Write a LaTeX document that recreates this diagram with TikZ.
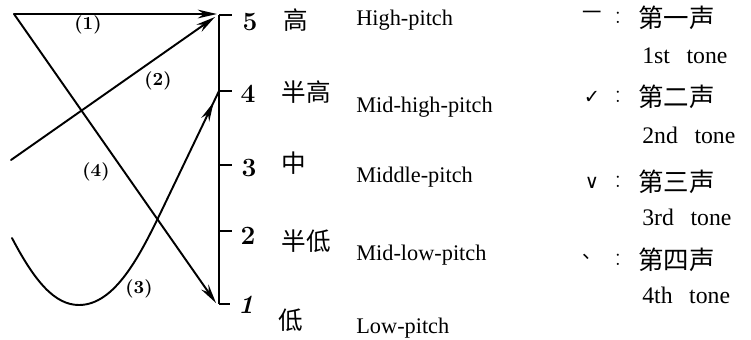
\documentclass[tikz,border=0pt]{standalone}
\usepackage{fontspec}
\newfontfamily\cjk{Noto Sans CJK SC}
\newfontfamily\dejavu{DejaVu Sans}
\newfontfamily\tms{Liberation Serif}
\usetikzlibrary{arrows.meta,decorations.markings}
\begin{document}
\begin{tikzpicture}[x=0.02cm,y=-0.02cm,
  tone/.style={line width=1.1pt, line cap=round},
  arr/.style={-{Stealth[length=11pt,width=5pt]}},
  midarr/.style={postaction={decorate},decoration={markings,
     mark=at position -7pt with {\arrow{Stealth[length=11pt,width=5pt]}}}},
  tickline/.style={line width=1.1pt},
  num/.style={font=\bfseries\fontsize{15}{15}\selectfont, inner sep=0pt},
  zh/.style={font=\cjk\fontsize{14}{14}\selectfont, inner sep=0pt},
  zhr/.style={font=\cjk\fontsize{14.5}{14.5}\selectfont, inner sep=0pt, anchor=west},
  en/.style={font=\tms\fontsize{12.7}{13}\selectfont, inner sep=0pt, anchor=base west},
  enr/.style={font=\tms\fontsize{13.5}{14}\selectfont, inner sep=0pt, anchor=base west},
  lab/.style={font=\bfseries\fontsize{10.5}{10.5}\selectfont, inner sep=0pt},
  mk/.style={font=\dejavu\fontsize{11}{11}\selectfont, inner sep=0pt},
  colon/.style={font=\fontsize{15}{15}\selectfont, inner sep=0pt},
]
\useasboundingbox (0,0) rectangle (751,339);
% scale points
\coordinate (p5) at (219,15);
\coordinate (p4) at (219,91);
\coordinate (p3) at (219,165);
\coordinate (p2) at (219,231);
\coordinate (p1) at (219,304);
\draw[tickline] (p5) -- (p1);
% numbers
\node[num] (n5) at (250,22) {5};
\node[num] (n4) at (248,94) {4};
\node[num] (n3) at (249,168) {3};
\node[num] (n2) at (248,236) {2};
\node[num] (n1) at (246,305) {\itshape 1};
\draw[tickline] (p5) -- ++(13,0);
\draw[tickline] (p4) -- ++(13,0);
\draw[tickline] (p3) -- ++(13,0);
\draw[tickline] (p2) -- ++(13,0);
\draw[tickline] (p1) -- ++(11,0);
% tone contours
\coordinate (s1) at (14,14);
\coordinate (s2) at (11,160);
\coordinate (s3) at (12,238);
\coordinate (e1) at (217,14);
\coordinate (e2) at (215,17);
\coordinate (e4) at (216,303);
\draw[tone,arr] (s1) -- (e1);
\draw[tone,arr] (s2) -- (e2);
\draw[tone,arr] (s1) -- (e4);
\draw[tone,midarr] (s3) .. controls (35,282) and (55,305) .. (79,305)
   .. controls (115,305) and (140,255) .. (160,214) -- (p4);
% contour labels
\node[lab] (l1) at (88,25) {(1)};
\node[lab] (l2) at (158,81) {(2)};
\node[lab] (l3) at (139,289) {(3)};
\node[lab] (l4) at (96,172) {(4)};
% pitch names
\node[zh] (c5) at (296,20) {高};
\node[zh] (c4) at (306,92) {半高};
\node[zh] (c3) at (294,163) {中};
\node[zh] (c2) at (306,241) {半低};
\node[zh] (c1) at (291,320) {低};
\node[en] (h5) at (356,25) {High-pitch};
\node[en] (h4) at (356,112) {Mid-high-pitch};
\node[en] (h3) at (356,182) {Middle-pitch};
\node[en] (h2) at (356,260) {Mid-low-pitch};
\node[en] (h1) at (356,333) {Low-pitch};
% tone legend
\node[mk] (m1) at (592,15) {\cjk 一};
\node[mk] (m2) at (592,97) {✓};
\node[mk] (m3) at (592,183) {∨};
\node[mk] (m4) at (592,257) {\cjk 、};
\foreach \y/\n in {18/1,97/2,182/3,260/4} \node[colon] (k\n) at (618,\y) {:};
\node[zhr] (t1) at (638,18) {第一声};
\node[zhr] (t2) at (638,97) {第二声};
\node[zhr] (t3) at (638,182) {第三声};
\node[zhr] (t4) at (638,260) {第四声};
\node[enr] (g1) at (642,63) {1st\hspace{0.7em}tone};
\node[enr] (g2) at (642,143) {2nd\hspace{0.7em}tone};
\node[enr] (g3) at (642,225) {3rd\hspace{0.7em}tone};
\node[enr] (g4) at (642,303) {4th\hspace{0.7em}tone};
\end{tikzpicture}
\end{document}
